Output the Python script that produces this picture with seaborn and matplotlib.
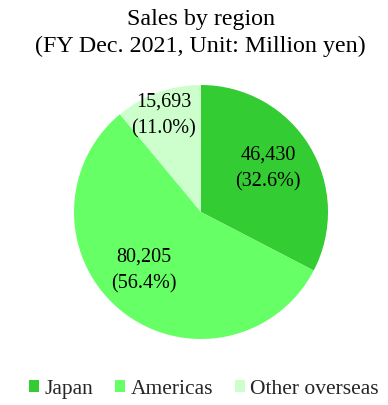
import numpy as np
import matplotlib
matplotlib.use("Agg")
import matplotlib.pyplot as plt
import seaborn as sns

regions = ["Japan", "Americas", "Other overseas"]
sales = [46430, 80205, 15693]
shares = [32.6, 56.4, 11.0]
colors = ["#33CC33", "#66FF66", "#CCFFCC"]
label_dist = [0.635, 0.64, 0.82]
label_shift = [2.5, -6.0, 1.0]

sns.set_theme(style="white")
plt.rcParams["font.family"] = ["Liberation Serif", "DejaVu Serif"]

fig = plt.figure(figsize=(3.88, 4.06), dpi=100)
ax = fig.add_axes([74 / 388, 66 / 406, 254 / 388, 254 / 406])
wedges, _ = ax.pie(sales, colors=colors, startangle=90, counterclock=False,
                   radius=1.0, wedgeprops=dict(linewidth=0))
ax.set_xlim(-1, 1)
ax.set_ylim(-1, 1)
ax.set_aspect("equal")

for w, v, s, d, sh in zip(wedges, sales, shares, label_dist, label_shift):
    ang = np.deg2rad((w.theta1 + w.theta2) / 2 + sh)
    ax.text(d * np.cos(ang), d * np.sin(ang), f"{v:,}\n({s:.1f}%)",
            ha="center", va="center", fontsize=14.5, color="black",
            linespacing=1.55)

fig.text(201 / 388, 1 - 19 / 406, "Sales by region", ha="center", va="center",
         fontsize=17.3, color="black")
fig.text(200 / 388, 1 - 46 / 406, "(FY Dec. 2021, Unit: Million yen)", ha="center",
         va="center", fontsize=17.3, color="black")

fig.legend(wedges, regions, loc="center", bbox_to_anchor=(204 / 388, 1 - 390 / 406),
           ncol=3, frameon=False, fontsize=15.5, handlelength=0.47,
           handleheight=0.47, handletextpad=0.25, columnspacing=1.0,
           borderaxespad=0, borderpad=0)

fig.savefig("out.png", dpi=100, facecolor="white")
